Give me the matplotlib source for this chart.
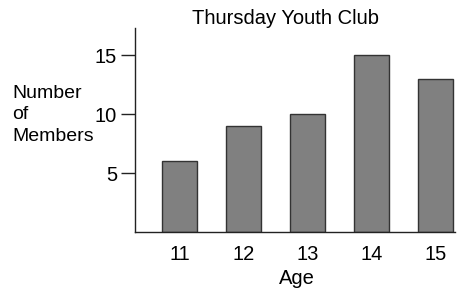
import matplotlib
matplotlib.use("Agg")
import matplotlib.pyplot as plt

ages = [11, 12, 13, 14, 15]
members = [6, 9, 10, 15, 13]
yticks = [5, 10, 15]

plt.rcParams['font.family'] = ['Liberation Sans', 'DejaVu Sans']

fig = plt.figure(figsize=(4.73, 2.91), dpi=100)
ax = fig.add_axes([0.2854, 0.2027, 0.6766, 0.7011])

ax.bar(ages, members, width=0.55, color='#808080', edgecolor='#333333', linewidth=1.0)

ax.set_xlim(10.3, 15.3)
ax.set_ylim(0, 17.3)
ax.set_xticks(ages)
ax.set_xticklabels([str(a) for a in ages])
ax.set_yticks(yticks)

for s in ['top', 'right']:
    ax.spines[s].set_visible(False)
for s in ['left', 'bottom']:
    ax.spines[s].set_color('#222222')
    ax.spines[s].set_linewidth(1.0)

ax.tick_params(axis='y', length=10, width=1, color='#222222', pad=3, labelsize=14.5)
ax.tick_params(axis='x', length=0, pad=9, labelsize=14.5)

fig.text(286/473, 1 - 18/291, "Thursday Youth Club", ha='center', va='center', fontsize=14.5)
fig.text(12/473, 1 - 115/291, "Number\nof\nMembers", ha='left', va='center',
         fontsize=14, linespacing=1.35)
fig.text(297/473, 1 - 278/291, "Age", ha='center', va='center', fontsize=14.5)

fig.savefig("out.png", dpi=100)
